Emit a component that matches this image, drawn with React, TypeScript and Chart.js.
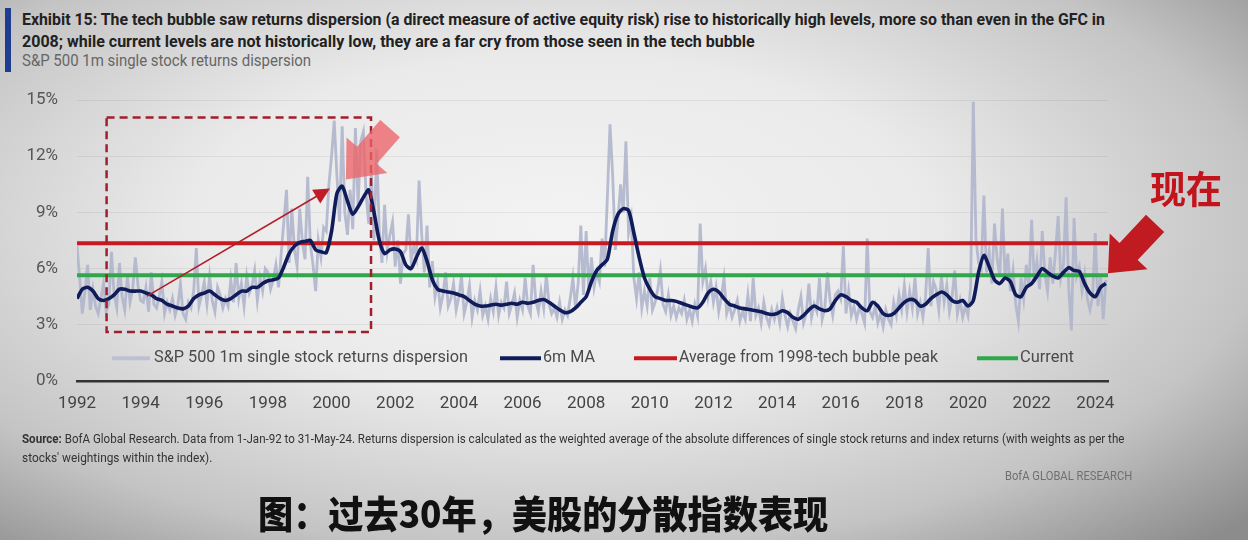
import { useEffect, useLayoutEffect, useRef } from 'react';
import { Chart, registerables } from 'chart.js';

Chart.register(...registerables);

const START_YEAR = 1992;
const END_X = 2024.4;

// S&P 500 1m single stock returns dispersion, monthly, Jan-92 .. May-24 (%)
const dispersion90s = [
  7.2, 5.5, 3.6, 4.8, 6.2, 3.8, 4.9, 4.0, 3.6, 4.4, 5.2, 3.7, // 1992
  4.1, 6.9, 4.6, 3.9, 6.3, 4.5, 3.8, 5.6, 4.2, 4.9, 6.6, 5.1, // 1993
  4.3, 4.2, 5.0, 3.7, 5.8, 4.1, 3.9, 4.5, 5.3, 3.6, 4.2, 3.8, // 1994
  4.4, 3.5, 4.0, 5.2, 3.6, 3.3, 4.2, 3.9, 4.8, 7.1, 4.0, 4.6, // 1995
  5.3, 4.1, 5.6, 4.3, 3.7, 5.0, 4.6, 3.9, 4.4, 4.0, 5.4, 4.2, // 1996
  6.3, 4.4, 5.2, 4.0, 5.6, 4.7, 5.1, 5.9, 4.3, 5.5, 4.8, 6.0, // 1997
  5.8, 4.9, 5.4, 6.2, 5.0, 6.8, 8.5, 10.2, 6.3, 9.2, 7.0, 6.1, // 1998
  9.2, 7.4, 6.5, 10.9, 7.3, 6.2, 4.8, 7.5, 6.6, 8.2, 8.0, 10.5, // 1999
];
const dispersion00s = [
  12.0, 13.9, 11.0, 8.5, 13.6, 9.0, 7.8, 10.2, 8.1, 13.5, 9.4, 12.8, // 2000
  13.3, 10.0, 8.4, 11.2, 7.5, 12.4, 8.0, 6.3, 9.4, 6.9, 7.8, 8.5, // 2001
  6.1, 7.5, 5.2, 6.8, 7.0, 8.9, 6.4, 7.2, 6.6, 10.7, 7.8, 5.8, // 2002
  8.3, 5.0, 6.4, 4.5, 5.3, 3.9, 4.6, 5.8, 4.0, 4.4, 5.2, 3.8, // 2003
  4.5, 5.6, 3.6, 4.2, 5.1, 3.4, 4.3, 3.8, 4.8, 3.5, 4.0, 3.3, // 2004
  4.4, 3.7, 5.0, 3.5, 4.2, 3.9, 5.3, 3.6, 4.1, 4.7, 3.4, 4.3, // 2005
  3.8, 5.5, 4.0, 3.6, 6.2, 4.3, 3.7, 4.8, 3.9, 5.7, 4.1, 3.6, // 2006
  3.9, 3.4, 4.2, 3.3, 3.8, 3.5, 4.4, 5.5, 3.9, 5.2, 8.3, 4.6, // 2007
  8.0, 4.8, 6.6, 5.0, 5.8, 5.3, 7.6, 6.1, 9.8, 13.7, 11.0, 7.0, // 2008
  8.6, 10.5, 9.0, 12.8, 7.9, 8.7, 5.5, 4.4, 5.8, 3.9, 4.8, 4.0, // 2009
];
const dispersion10s = [
  5.5, 3.8, 4.2, 4.9, 5.9, 4.1, 3.7, 4.6, 3.5, 4.0, 3.4, 3.9, // 2010
  3.6, 4.3, 3.3, 3.8, 3.2, 4.1, 3.5, 8.4, 5.3, 6.0, 4.5, 5.3, // 2011
  4.2, 5.0, 3.7, 4.5, 5.5, 3.6, 4.1, 3.4, 3.8, 4.3, 3.2, 3.7, // 2012
  3.3, 4.6, 3.2, 5.5, 3.5, 3.9, 3.1, 4.2, 3.4, 3.0, 3.8, 3.3, // 2013
  3.9, 3.1, 4.4, 3.5, 2.9, 3.6, 3.2, 2.8, 3.8, 4.5, 3.1, 3.6, // 2014
  5.2, 3.4, 4.1, 3.7, 5.5, 3.3, 3.9, 5.8, 4.3, 3.5, 4.6, 4.8, // 2015
  4.4, 7.2, 3.6, 4.8, 3.5, 4.0, 3.3, 3.9, 3.6, 3.1, 7.6, 3.7, // 2016
  3.4, 4.0, 3.1, 3.6, 2.9, 3.8, 3.3, 3.0, 4.2, 3.5, 4.6, 3.8, // 2017
  5.1, 3.7, 4.8, 3.9, 5.5, 3.6, 4.2, 3.4, 4.5, 7.1, 4.0, 5.3, // 2018
  4.9, 3.8, 5.6, 4.2, 5.1, 3.7, 4.5, 5.9, 3.6, 4.3, 3.4, 4.0, // 2019
];
const dispersion20s = [
  3.5, 5.0, 14.9, 7.6, 6.3, 6.0, 9.9, 5.8, 6.9, 5.2, 8.4, 6.5, // 2020
  5.6, 9.2, 5.4, 6.8, 4.8, 5.9, 4.1, 3.2, 5.5, 4.4, 6.2, 5.0, // 2021
  8.6, 5.3, 6.4, 4.9, 8.0, 5.7, 4.8, 6.6, 5.2, 6.9, 8.8, 5.5, // 2022
  6.2, 9.8, 4.9, 2.7, 8.7, 5.6, 6.1, 4.8, 5.7, 4.4, 3.8, 4.5, // 2023
  7.9, 4.0, 5.6, 3.3, 5.4, // 2024
];

// 6m MA read every second month (Jan, Mar, May, Jul, Sep, Nov)
const movingAvg = [
  4.4, 4.9, 5.0, 4.8, 4.4, 4.3, // 1992
  4.4, 4.6, 4.9, 4.9, 4.8, 4.8, // 1993
  4.8, 4.7, 4.6, 4.4, 4.3, 4.1, // 1994
  4.0, 3.9, 3.85, 4.0, 4.4, 4.6, // 1995
  4.7, 4.8, 4.6, 4.4, 4.3, 4.4, // 1996
  4.6, 4.8, 4.8, 5.0, 5.0, 5.2, // 1997
  5.35, 5.4, 5.5, 6.1, 6.8, 7.2, // 1998
  7.4, 7.45, 7.5, 7.0, 6.9, 6.85, // 1999
  8.0, 10.0, 10.4, 9.6, 8.9, 9.3, // 2000
  9.8, 10.2, 9.0, 7.5, 6.8, 7.0, // 2001
  7.05, 6.9, 6.2, 6.0, 6.6, 7.1, // 2002
  6.4, 5.4, 4.9, 4.8, 4.75, 4.7, // 2003
  4.6, 4.5, 4.3, 4.1, 4.0, 4.0, // 2004
  4.05, 4.1, 4.05, 4.1, 4.15, 4.1, // 2005
  4.2, 4.15, 4.2, 4.3, 4.35, 4.2, // 2006
  4.0, 3.8, 3.65, 3.7, 3.9, 4.2, // 2007
  4.5, 5.3, 5.9, 6.2, 6.5, 8.0, // 2008
  8.9, 9.2, 9.1, 7.9, 6.6, 5.5, // 2009
  4.9, 4.5, 4.4, 4.3, 4.3, 4.25, // 2010
  4.15, 4.05, 3.95, 3.9, 4.2, 4.7, // 2011
  4.9, 4.75, 4.4, 4.1, 4.0, 3.9, // 2012
  3.85, 3.8, 3.75, 3.7, 3.6, 3.55, // 2013
  3.6, 3.75, 3.65, 3.4, 3.3, 3.5, // 2014
  3.8, 4.0, 3.85, 3.75, 3.85, 4.3, // 2015
  4.6, 4.5, 4.3, 4.2, 3.9, 3.75, // 2016
  4.2, 4.0, 3.6, 3.5, 3.6, 3.9, // 2017
  4.2, 4.35, 4.3, 4.0, 4.1, 4.4, // 2018
  4.6, 4.75, 4.6, 4.3, 4.2, 4.3, // 2019
  4.0, 4.3, 5.8, 6.7, 6.1, 5.4, // 2020
  5.2, 5.5, 5.3, 4.6, 4.5, 5.0, // 2021
  5.2, 5.6, 6.0, 5.8, 5.6, 5.5, // 2022
  5.8, 6.05, 5.9, 5.85, 5.2, 4.7, // 2023
  4.5, 5.0, 5.2, // 2024
];

const averageLevel = 7.35; // average from 1998 to tech bubble peak
const currentLevel = 5.65;

const xTickYears = [1992, 1994, 1996, 1998, 2000, 2002, 2004, 2006, 2008, 2010, 2012, 2014, 2016, 2018, 2020, 2022, 2024];
const yTickValues = [0, 3, 6, 9, 12, 15];

const legendItems = [
  { label: 'S&P 500 1m single stock returns dispersion', color: '#bcc0d2', from: 112, to: 150, text: 154, width: 314 },
  { label: '6m MA', color: '#101c5a', from: 500, to: 541, text: 543, width: 52 },
  { label: 'Average from 1998-tech bubble peak', color: '#c9181f', from: 634, to: 677, text: 679, width: 259 },
  { label: 'Current', color: '#2ea84a', from: 977, to: 1018, text: 1020, width: 54 },
];

const FONT = 'Roboto, "Open Sans", sans-serif';

const annotate = {
  id: 'annotate',
  afterDraw(chart: Chart) {
    const { ctx, scales } = chart;
    const px = (v: number) => scales.x.getPixelForValue(v);
    const py = (v: number) => scales.y.getPixelForValue(v);
    ctx.save();

    // legend inside the plot
    const ly = py(1.22);
    ctx.font = `17px ${FONT}`;
    ctx.textBaseline = 'middle';
    legendItems.forEach((it) => {
      ctx.strokeStyle = it.color;
      ctx.lineWidth = 4;
      ctx.beginPath();
      ctx.moveTo(it.from, ly);
      ctx.lineTo(it.to, ly);
      ctx.stroke();
      ctx.fillStyle = '#4a4a4a';
      ctx.fillText(it.label, it.text, ly, it.width);
    });

    // dashed box round the tech bubble
    ctx.setLineDash([8, 5]);
    ctx.strokeStyle = '#a01f2e';
    ctx.lineWidth = 2.5;
    ctx.strokeRect(px(1992.93), py(14.07), px(2001.24) - px(1992.93), py(2.62) - py(14.07));
    ctx.setLineDash([]);

    // thin arrow
    const ax0 = px(1994.2), ay0 = py(4.53), ax1 = px(1999.95), ay1 = py(10.28);
    const ang = Math.atan2(ay1 - ay0, ax1 - ax0);
    ctx.strokeStyle = '#b01f27';
    ctx.fillStyle = '#c01d26';
    ctx.lineWidth = 1.6;
    ctx.beginPath();
    ctx.moveTo(ax0, ay0);
    ctx.lineTo(ax1 - 10 * Math.cos(ang), ay1 - 10 * Math.sin(ang));
    ctx.stroke();
    ctx.beginPath();
    ctx.moveTo(ax1, ay1);
    ctx.lineTo(ax1 - 16 * Math.cos(ang) + 8 * Math.sin(ang), ay1 - 16 * Math.sin(ang) - 8 * Math.cos(ang));
    ctx.lineTo(ax1 - 16 * Math.cos(ang) - 8 * Math.sin(ang), ay1 - 16 * Math.sin(ang) + 8 * Math.cos(ang));
    ctx.closePath();
    ctx.fill();

    const blockArrow = (tx: number, ty: number, hx: number, hy: number, shaft: number, headW: number, headL: number, color: string) => {
      const len = Math.hypot(hx - tx, hy - ty);
      const dx = (hx - tx) / len, dy = (hy - ty) / len;
      const nx = -dy, ny = dx;
      const bx = hx - dx * headL, by = hy - dy * headL;
      ctx.fillStyle = color;
      ctx.beginPath();
      ctx.moveTo(tx + nx * shaft / 2, ty + ny * shaft / 2);
      ctx.lineTo(bx + nx * shaft / 2, by + ny * shaft / 2);
      ctx.lineTo(bx + nx * headW / 2, by + ny * headW / 2);
      ctx.lineTo(hx, hy);
      ctx.lineTo(bx - nx * headW / 2, by - ny * headW / 2);
      ctx.lineTo(bx - nx * shaft / 2, by - ny * shaft / 2);
      ctx.lineTo(tx - nx * shaft / 2, ty - ny * shaft / 2);
      ctx.closePath();
      ctx.fill();
    };

    blockArrow(px(2001.84), py(13.47), px(2000.45), py(10.76), 26, 54, 32, 'rgba(236, 100, 105, 0.78)');
    blockArrow(px(2025.88), py(8.41), px(2024.4), py(5.75), 25, 52, 30, '#c11b22');

    ctx.fillStyle = '#c2141c';
    ctx.font = 'bold 38px "Noto Sans CJK SC", sans-serif';
    ctx.textAlign = 'center';
    ctx.fillText('现在', px(2026.85), py(10.28), 72);
    ctx.restore();
  },
};

// text squeezed to the width it takes in the reference (condensed face)
function Fit({ children, left, top, width, style }: { children: any; left: number; top: number; width: number; style?: any }) {
  const ref = useRef<HTMLDivElement>(null);
  useLayoutEffect(() => {
    const el = ref.current;
    if (!el) return;
    el.style.transform = `scaleX(${width / el.scrollWidth})`;
  }, [width]);
  return (
    <div
      ref={ref}
      style={{ position: 'absolute', left, top, whiteSpace: 'nowrap', transformOrigin: '0 0', ...style }}
    >
      {children}
    </div>
  );
}

function ExhibitChart() {
  const canvasRef = useRef<HTMLCanvasElement>(null);

  useEffect(() => {
    if (!canvasRef.current) return;
    const dispersion = [...dispersion90s, ...dispersion00s, ...dispersion10s, ...dispersion20s];
    const flat = (v: number) => [{ x: START_YEAR, y: v }, { x: END_X, y: v }];

    const chart = new Chart(canvasRef.current, {
      type: 'line',
      data: {
        datasets: [
          {
            label: '6m MA',
            data: movingAvg.map((v, i) => ({ x: START_YEAR + i / 6, y: v })),
            borderColor: '#101c5a',
            borderWidth: 3.6,
            pointRadius: 0,
            tension: 0.25,
            order: 0,
          },
          {
            label: 'Current',
            data: flat(currentLevel),
            borderColor: '#2ea84a',
            borderWidth: 4,
            pointRadius: 0,
            order: 1,
          },
          {
            label: 'Average from 1998-tech bubble peak',
            data: flat(averageLevel),
            borderColor: '#c9181f',
            borderWidth: 4,
            pointRadius: 0,
            order: 2,
          },
          {
            label: 'S&P 500 1m single stock returns dispersion',
            data: dispersion.map((v, i) => ({ x: START_YEAR + i / 12, y: v })),
            borderColor: 'rgba(176, 181, 204, 0.9)',
            borderWidth: 2.8,
            pointRadius: 0,
            tension: 0,
            order: 3,
          },
        ],
      },
      options: {
        responsive: false,
        animation: false,
        layout: { padding: { left: 0, right: 140, top: 100, bottom: 119 } },
        plugins: { legend: { display: false }, tooltip: { enabled: false } },
        scales: {
          x: {
            type: 'linear',
            min: START_YEAR,
            max: END_X,
            afterBuildTicks: (s: any) => {
              s.ticks = xTickYears.map((v) => ({ value: v }));
            },
            afterFit: (s: any) => {
              s.height = 40;
            },
            grid: { display: false, drawTicks: false },
            border: { display: true, color: '#333', width: 2.5 },
            ticks: {
              padding: 13,
              color: '#444',
              font: { family: FONT, size: 17 },
              callback: (v: any) => String(v),
              maxRotation: 0,
              autoSkip: false,
            },
          },
          y: {
            min: 0,
            max: 15,
            afterBuildTicks: (s: any) => {
              s.ticks = yTickValues.map((v) => ({ value: v }));
            },
            afterFit: (s: any) => {
              s.width = 77;
            },
            grid: { color: 'rgba(0,0,0,0.06)', drawTicks: false },
            border: { display: false },
            ticks: {
              padding: 19,
              color: '#555',
              font: { family: FONT, size: 17 },
              callback: (v: any) => `${v}%`,
            },
          },
        },
      },
      plugins: [annotate],
    });
    return () => chart.destroy();
  }, []);

  return <canvas ref={canvasRef} width={1248} height={540} style={{ position: 'absolute', left: 0, top: 0 }} />;
}

export default function App() {
  return (
    <div
      style={{
        position: 'absolute',
        left: 0,
        top: 0,
        width: 1248,
        height: 540,
        overflow: 'hidden',
        background: 'radial-gradient(ellipse 75% 80% at 45% 42%, #f3f3f3 0%, #eaeaea 40%, #c4c4c4 75%, #8c8c8c 100%)',
        fontFamily: FONT,
      }}
    >
      <div style={{ position: 'absolute', left: 5, top: 8, width: 6, height: 64, background: '#1f3d8f' }} />
      <Fit left={22} top={8} width={1083} style={{ fontWeight: 'bold', fontSize: 17, lineHeight: '22px', color: '#222' }}>
        Exhibit 15: The tech bubble saw returns dispersion (a direct measure of active equity risk) rise to historically high levels, more so than even in the GFC in
      </Fit>
      <Fit left={22} top={30} width={733} style={{ fontWeight: 'bold', fontSize: 17, lineHeight: '22px', color: '#222' }}>
        2008; while current levels are not historically low, they are a far cry from those seen in the tech bubble
      </Fit>
      <Fit left={22} top={51} width={289} style={{ fontSize: 16, lineHeight: '20px', color: '#666' }}>
        S&amp;P 500 1m single stock returns dispersion
      </Fit>
      <ExhibitChart />
      <Fit left={22} top={431} width={1102} style={{ fontSize: 12, lineHeight: '16px', color: '#333' }}>
        <b>Source:</b> BofA Global Research. Data from 1-Jan-92 to 31-May-24. Returns dispersion is calculated as the weighted average of the absolute differences of single stock returns and index returns (with weights as per the
      </Fit>
      <Fit left={22} top={450} width={190} style={{ fontSize: 12, lineHeight: '16px', color: '#333' }}>
        stocks' weightings within the index).
      </Fit>
      <Fit left={1005} top={468} width={127} style={{ fontSize: 12, lineHeight: '16px', color: '#6f6f6f' }}>
        BofA GLOBAL RESEARCH
      </Fit>
      <Fit
        left={258}
        top={490}
        width={570}
        style={{ fontFamily: '"Noto Sans CJK SC", sans-serif', fontWeight: 900, fontSize: 38, lineHeight: '44px', color: '#111' }}
      >
        图：过去30年，美股的分散指数表现
      </Fit>
    </div>
  );
}
